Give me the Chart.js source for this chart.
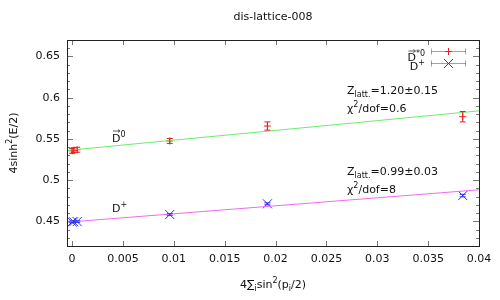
<!DOCTYPE html>
<html>
<head>
<meta charset="utf-8">
<script src="https://cdn.jsdelivr.net/npm/chart.js@4.4.1/dist/chart.umd.min.js"></script>
<style>
  body { margin: 0; background: #fff; }
  canvas { display: block; }
</style>
</head>
<body>
<canvas id="chart" width="500" height="300"></canvas>
<script>
const titleText = "dis-lattice-008";

// D*0 points
const redX = [0, 0.00015, 0.0005, 0.0096, 0.0192, 0.0384];
const redY = [0.5355, 0.5362, 0.5368, 0.5475, 0.5656, 0.5769];
const redErr = [0.003, 0.003, 0.003, 0.003, 0.005, 0.0063];

// D+ points
const blueX = [0, 0.00015, 0.0005, 0.0096, 0.0192, 0.0384];
const blueY = [0.4492, 0.4494, 0.4496, 0.4582, 0.4712, 0.4812];
const blueErr = [0.001, 0.001, 0.001, 0.001, 0.0012, 0.0015];

// fit lines
const fitX = [-0.0005, 0.04];
const greenFitY = [0.5360, 0.5840];
const magentaFitY = [0.4489, 0.4882];

const xTickValues = [0, 0.005, 0.01, 0.015, 0.02, 0.025, 0.03, 0.035, 0.04];
const yTickValues = [0.45, 0.5, 0.55, 0.6, 0.65];
const yMinorStep = 0.01;

const FONT = "DejaVu Sans";
const RED = "rgb(235,30,30)";
const BLUE = "rgb(50,50,235)";

function toPoints(xs, ys) {
  return xs.map((x, i) => ({ x: x, y: ys[i] }));
}

// draw text pieces with sub/superscripts
function drawRich(ctx, x, y, parts, align) {
  const widths = parts.map(p => {
    ctx.font = (p[1] === "n" ? 11 : 8) + "px '" + FONT + "'";
    return ctx.measureText(p[0]).width;
  });
  const total = widths.reduce((a, b) => a + b, 0);
  let cx = align === "right" ? x - total : align === "center" ? x - total / 2 : x;
  const start = cx;
  parts.forEach((p, i) => {
    ctx.font = (p[1] === "n" ? 11 : 8) + "px '" + FONT + "'";
    const dy = p[1] === "sub" ? 3 : p[1] === "sup" ? -5 : 0;
    ctx.fillText(p[0], cx, y + dy);
    cx += widths[i];
  });
  return start;
}

function arrowOver(ctx, x, y, w) {
  ctx.save();
  ctx.strokeStyle = "#333";
  ctx.lineWidth = 0.8;
  ctx.beginPath();
  ctx.moveTo(x + 1, y);
  ctx.lineTo(x + w, y);
  ctx.moveTo(x + w - 2, y - 1.5);
  ctx.lineTo(x + w, y);
  ctx.lineTo(x + w - 2, y + 1.5);
  ctx.stroke();
  ctx.restore();
}

const framePlugin = {
  id: "frame",
  afterDraw(chart) {
    const ctx = chart.ctx;
    const a = chart.chartArea;
    const xs = chart.scales.x;
    const ys = chart.scales.y;
    ctx.save();
    // ticks
    ctx.strokeStyle = "#777";
    ctx.lineWidth = 1;
    ctx.beginPath();
    xTickValues.forEach(v => {
      const px = Math.round(xs.getPixelForValue(v)) + 0.5;
      ctx.moveTo(px, a.bottom); ctx.lineTo(px, a.bottom - 5);
      ctx.moveTo(px, a.top); ctx.lineTo(px, a.top + 5);
    });
    for (let k = 42; k <= 67; k++) {
      const v = k * yMinorStep;
      const major = k % 5 === 0;
      const len = major ? 6 : 3;
      const py = Math.round(ys.getPixelForValue(v)) + 0.5;
      ctx.moveTo(a.left, py); ctx.lineTo(a.left + len, py);
      ctx.moveTo(a.right, py); ctx.lineTo(a.right - len, py);
    }
    ctx.stroke();
    // border
    ctx.strokeStyle = "#222";
    ctx.strokeRect(Math.round(a.left) + 0.5, Math.round(a.top) + 0.5,
      Math.round(a.right - a.left), Math.round(a.bottom - a.top));

    // titles
    ctx.fillStyle = "#111";
    ctx.textBaseline = "alphabetic";
    const cx = (a.left + a.right) / 2;
    ctx.font = "11px '" + FONT + "'";
    ctx.textAlign = "center";
    ctx.fillText(titleText, cx, 20);
    ctx.textAlign = "left";
    drawRich(ctx, cx, 288, [["4∑", "n"], ["i", "sub"], ["sin", "n"], ["2", "sup"], ["(p", "n"], ["i", "sub"], ["/2)", "n"]], "center");
    ctx.save();
    ctx.translate(17, (a.top + a.bottom) / 2);
    ctx.rotate(-Math.PI / 2);
    drawRich(ctx, 0, 0, [["4sinh", "n"], ["2", "sup"], ["(E/2)", "n"]], "center");
    ctx.restore();

    // annotations
    drawRich(ctx, 347, 94, [["Z", "n"], ["latt.", "sub"], ["=1.20±0.15", "n"]], "left");
    drawRich(ctx, 347, 112, [["χ", "n"], ["2", "sup"], ["/dof=0.6", "n"]], "left");
    drawRich(ctx, 347, 175, [["Z", "n"], ["latt.", "sub"], ["=0.99±0.03", "n"]], "left");
    drawRich(ctx, 347, 193, [["χ", "n"], ["2", "sup"], ["/dof=8", "n"]], "left");

    // in-plot labels
    drawRich(ctx, 112, 142, [["D", "n"], ["0", "sup"]], "left");
    arrowOver(ctx, 112, 131, 8);
    drawRich(ctx, 112, 212, [["D", "n"], ["+", "sup"]], "left");

    // legend
    const lx0 = 431, lx1 = 466, lm = 448.5;
    const rows = [
      { y: 51.5, color: "rgba(235,30,30,0.55)", mark: RED, style: "plus", ty: 61, sup: "*0", arrow: true },
      { y: 63.5, color: "rgba(50,50,235,0.5)", mark: BLUE, style: "x", ty: 70, sup: "+", arrow: false }
    ];
    rows.forEach(r => {
      ctx.strokeStyle = r.color;
      ctx.lineWidth = 1;
      ctx.beginPath();
      ctx.moveTo(lx0, r.y); ctx.lineTo(lx1, r.y);
      ctx.moveTo(lx0 + 0.5, r.y - 3); ctx.lineTo(lx0 + 0.5, r.y + 3);
      ctx.moveTo(lx1 - 0.5, r.y - 3); ctx.lineTo(lx1 - 0.5, r.y + 3);
      ctx.stroke();
      ctx.strokeStyle = r.mark;
      ctx.beginPath();
      if (r.style === "plus") {
        ctx.moveTo(lm - 3.5, r.y); ctx.lineTo(lm + 3.5, r.y);
        ctx.moveTo(lm, r.y - 3.5); ctx.lineTo(lm, r.y + 3.5);
      } else {
        ctx.moveTo(lm - 4.5, r.y - 4.5); ctx.lineTo(lm + 4.5, r.y + 4.5);
        ctx.moveTo(lm - 4.5, r.y + 4.5); ctx.lineTo(lm + 4.5, r.y - 4.5);
      }
      ctx.stroke();
      ctx.fillStyle = "#111";
      const start = drawRich(ctx, 425, r.ty, [["D", "n"], [r.sup, "sup"]], "right");
      if (r.arrow) arrowOver(ctx, start, r.ty - 10, 8);
    });
    ctx.restore();
  }
};

const errorBarPlugin = {
  id: "errorbars",
  afterDatasetsDraw(chart) {
    const ctx = chart.ctx;
    const xs = chart.scales.x;
    const ys = chart.scales.y;
    const sets = [[redX, redY, redErr, RED], [blueX, blueY, blueErr, BLUE]];
    ctx.save();
    ctx.lineWidth = 1;
    sets.forEach(([X, Y, E, c]) => {
      ctx.strokeStyle = c;
      ctx.beginPath();
      X.forEach((x, i) => {
        const px = xs.getPixelForValue(x);
        const top = ys.getPixelForValue(Y[i] + E[i]);
        const bot = ys.getPixelForValue(Y[i] - E[i]);
        ctx.moveTo(px, top); ctx.lineTo(px, bot);
        ctx.moveTo(px - 3, top); ctx.lineTo(px + 3, top);
        ctx.moveTo(px - 3, bot); ctx.lineTo(px + 3, bot);
      });
      ctx.stroke();
    });
    ctx.restore();
  }
};

const fmt = v => String(+v.toFixed(4));

new Chart(document.getElementById("chart"), {
  type: "scatter",
  data: {
    datasets: [
      {
        label: "D*0 fit",
        data: toPoints(fitX, greenFitY),
        showLine: true,
        borderColor: "rgb(110,235,110)",
        borderWidth: 1,
        pointRadius: 0
      },
      {
        label: "D+ fit",
        data: toPoints(fitX, magentaFitY),
        showLine: true,
        borderColor: "rgb(235,110,235)",
        borderWidth: 1,
        pointRadius: 0
      },
      {
        label: "D*0",
        data: toPoints(redX, redY),
        pointStyle: "cross",
        pointRadius: 3.5,
        borderColor: RED,
        backgroundColor: RED,
        pointBorderWidth: 1
      },
      {
        label: "D+",
        data: toPoints(blueX, blueY),
        pointStyle: "crossRot",
        pointRadius: 6.4,
        borderColor: BLUE,
        backgroundColor: BLUE,
        pointBorderWidth: 1
      }
    ]
  },
  options: {
    responsive: false,
    animation: false,
    layout: { padding: { top: 40, right: 21, left: 0, bottom: 0 } },
    plugins: {
      legend: { display: false },
      tooltip: { enabled: false },
      title: { display: false }
    },
    scales: {
      x: {
        type: "linear",
        min: -0.0005,
        max: 0.04,
        grid: { display: false, drawTicks: false },
        border: { display: false },
        afterBuildTicks(s) { s.ticks = xTickValues.map(v => ({ value: v })); },
        ticks: {
          maxRotation: 0,
          autoSkip: false,
          padding: 7,
          color: "#111",
          font: { family: FONT, size: 11 },
          callback: fmt
        },
        afterFit(s) { s.height = 54; }
      },
      y: {
        type: "linear",
        min: 0.42,
        max: 0.67,
        grid: { display: false, drawTicks: false },
        border: { display: false },
        afterBuildTicks(s) { s.ticks = yTickValues.map(v => ({ value: v })); },
        ticks: {
          autoSkip: false,
          padding: 7,
          color: "#111",
          font: { family: FONT, size: 11 },
          callback: fmt
        },
        afterFit(s) { s.width = 67; }
      }
    }
  },
  plugins: [errorBarPlugin, framePlugin]
});
</script>
</body>
</html>
